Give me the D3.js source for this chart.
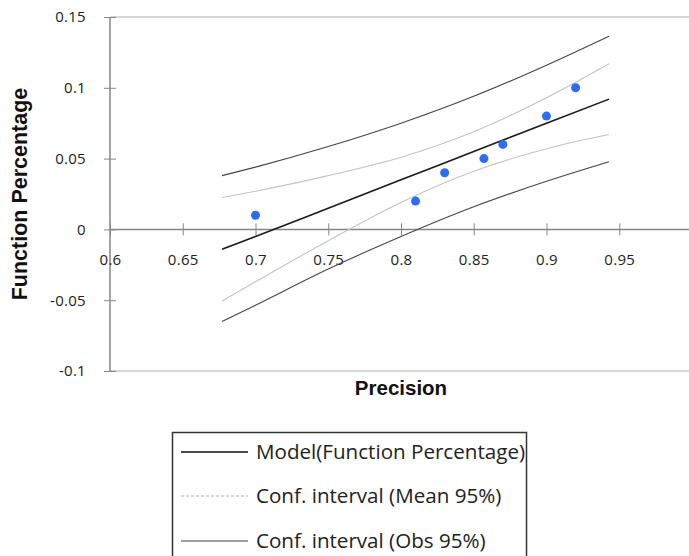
<!DOCTYPE html>
<html lang="en">
    <head>
        <meta charset="utf-8">
        <title>precision_vs_function</title>
        <script type="text/javascript" src="https://cdn.jsdelivr.net/npm/d3@7"></script>
        <style type="text/css">
        body { margin: 0; background: #fff; }
        .tick text { font-family: "Open Sans", sans-serif; font-size: 15px; letter-spacing: 0.3px; fill: #222; }
        </style>
    </head>
    <body>
        <div id="drawing"></div>
        <script type="text/javascript">
            // observed points
            var precision = [0.7, 0.81, 0.83, 0.857, 0.87, 0.9, 0.92];
            var funcPct   = [0.01, 0.02, 0.04, 0.05, 0.06, 0.08, 0.1];

            // model + confidence bands, read along the x range of the fit
            var bandX     = [0.677, 0.7, 0.75, 0.8, 0.85, 0.9, 0.943];
            var model     = [-0.014, -0.005, 0.015, 0.035, 0.055, 0.075, 0.092];
            var meanUpper = [0.0225, 0.027, 0.038, 0.051, 0.069, 0.093, 0.117];
            var meanLower = [-0.0505, -0.037, -0.008, 0.019, 0.041, 0.057, 0.067];
            var obsUpper  = [0.038, 0.044, 0.0585, 0.075, 0.094, 0.116, 0.1365];
            var obsLower  = [-0.065, -0.0535, -0.028, -0.005, 0.016, 0.034, 0.0478];

            var xTicks = [0.6, 0.65, 0.7, 0.75, 0.8, 0.85, 0.9, 0.95, 1];
            var yTicks = [-0.1, -0.05, 0, 0.05, 0.1, 0.15];

            var legendNames = ["Model(Function Percentage)", "Conf. interval (Mean 95%)", "Conf. interval (Obs 95%)"];

            var W = 689, H = 556;
            var svg = d3.select("#drawing").append("svg")
                .attr("width", W).attr("height", H);

            var x = d3.scaleLinear().domain([0.6, 1]).range([110, 692]);
            var y = d3.scaleLinear().domain([-0.1, 0.15]).range([371, 17]);

            var axisGrey = "#868686";
            // plain hyphen minus like the original
            var fmt = function(d){ return String(+d.toFixed(2)); };

            // plot frame top / bottom
            svg.append("line").attr("x1", x(0.6)).attr("x2", W).attr("y1", y(0.15)).attr("y2", y(0.15))
                .style("stroke", "#c8c8c8").style("stroke-width", 1.5);
            svg.append("line").attr("x1", x(0.6)).attr("x2", W).attr("y1", y(-0.1)).attr("y2", y(-0.1))
                .style("stroke", "#c8c8c8").style("stroke-width", 1.5);

            // y axis
            var yAxis = svg.append("g").attr("transform", "translate(" + x(0.6) + ",0)")
                .call(d3.axisLeft(y).tickValues(yTicks).tickSize(6).tickPadding(18).tickFormat(fmt));
            yAxis.select(".domain").remove();
            yAxis.append("line").attr("y1", y(0.15)).attr("y2", y(-0.1))
                .style("stroke", axisGrey).style("stroke-width", 1.5);
            yAxis.selectAll(".tick line").attr("x1", -6).attr("x2", 6).style("stroke", axisGrey);

            // x axis at y = 0
            var xAxis = svg.append("g").attr("transform", "translate(0," + y(0) + ")")
                .call(d3.axisBottom(x).tickValues(xTicks).tickSize(6).tickPadding(19).tickFormat(fmt));
            xAxis.select(".domain").remove();
            xAxis.append("line").attr("x1", x(0.6)).attr("x2", W)
                .style("stroke", axisGrey).style("stroke-width", 1.5);
            xAxis.selectAll(".tick line").attr("y1", -6).attr("y2", 6).style("stroke", axisGrey);

            // lines
            var line = function(vals) {
                return d3.line()
                    .x(function(d, i){ return x(bandX[i]); })
                    .y(function(d){ return y(d); })
                    .curve(d3.curveMonotoneX)(vals);
            };
            var series = [
                {v: obsUpper, c: "#454545", w: 1.1},
                {v: obsLower, c: "#454545", w: 1.1},
                {v: meanUpper, c: "#c4c4c4", w: 1.1},
                {v: meanLower, c: "#c4c4c4", w: 1.1},
                {v: model, c: "#1a1a1a", w: 1.6}
            ];
            series.forEach(function(s){
                svg.append("path").attr("d", line(s.v))
                    .style("fill", "none").style("stroke", s.c).style("stroke-width", s.w);
            });

            // points
            svg.selectAll("circle.pt").data(precision).enter().append("circle")
                .attr("class", "pt")
                .attr("cx", function(d){ return x(d); })
                .attr("cy", function(d, i){ return y(funcPct[i]); })
                .attr("r", 4.5)
                .style("fill", "#2f6cf6");

            // axis titles
            svg.append("text")
                .attr("transform", "translate(27,194) rotate(-90)")
                .attr("text-anchor", "middle")
                .attr("font-family", "Liberation Sans, Arial, sans-serif")
                .attr("font-weight", "bold").attr("font-size", "21.5px")
                .style("fill", "#111")
                .text("Function Percentage");
            svg.append("text")
                .attr("x", 401).attr("y", 395)
                .attr("text-anchor", "middle")
                .attr("font-family", "Liberation Sans, Arial, sans-serif")
                .attr("font-weight", "bold").attr("font-size", "20.5px")
                .style("fill", "#111")
                .text("Precision");

            // legend
            var lg = svg.append("g");
            lg.append("rect").attr("x", 172.5).attr("y", 432.5).attr("width", 354).attr("height", 140)
                .style("fill", "#fff").style("stroke", "#333").style("stroke-width", 1.5);
            var legendStyles = [
                {c: "#111", dash: null, w: 1.5},
                {c: "#b0b0b0", dash: "3,2", w: 1},
                {c: "#404040", dash: null, w: 1.2}
            ];
            var rowY = [452, 496, 541];
            legendNames.forEach(function(name, i){
                lg.append("line").attr("x1", 181).attr("x2", 248).attr("y1", rowY[i]).attr("y2", rowY[i])
                    .style("stroke", legendStyles[i].c).style("stroke-width", legendStyles[i].w)
                    .style("stroke-dasharray", legendStyles[i].dash);
                lg.append("text").attr("x", 256).attr("y", rowY[i] + 7)
                    .attr("font-family", "Open Sans, sans-serif").attr("font-size", "20.6px")
                    .style("fill", "#222")
                    .text(name);
            });
        </script>
    </body>
</html>
